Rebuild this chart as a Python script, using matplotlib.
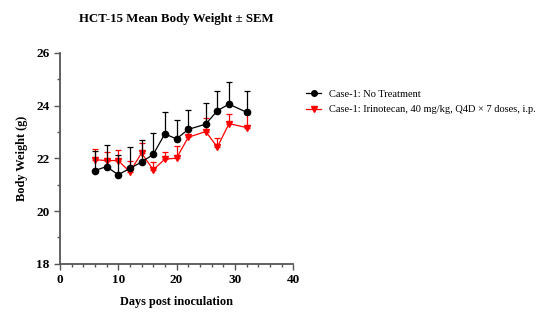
import matplotlib
matplotlib.use("Agg")
import matplotlib.pyplot as plt
from matplotlib.lines import Line2D
from matplotlib.ticker import MultipleLocator

days = [6, 8, 10, 12, 14, 16, 18, 20, 22, 25, 27, 29, 32]
ctrl_mean = [21.54, 21.69, 21.38, 21.62, 21.86, 22.15, 22.93, 22.74, 23.10, 23.30, 23.81, 24.06, 23.75]
ctrl_sem = [0.73, 0.80, 0.75, 0.80, 0.84, 0.80, 0.83, 0.70, 0.74, 0.81, 0.73, 0.84, 0.81]
iri_mean = [21.95, 21.92, 21.92, 21.49, 22.20, 21.57, 21.97, 22.01, 22.80, 23.02, 22.43, 23.32, 23.17]
iri_sem = [0.41, 0.31, 0.41, 0.42, 0.40, 0.28, 0.28, 0.45, 0.40, 0.51, 0.33, 0.36, 0.50]

labels = ["Case-1: No Treatment", "Case-1: Irinotecan, 40 mg/kg, Q4D \u00d7 7 doses, i.p."]

plt.rcParams["font.family"] = ["Liberation Serif", "DejaVu Serif"]
fig = plt.figure(figsize=(5.44, 3.29), dpi=100)
ax = fig.add_axes([0.110, 0.198, 0.429, 0.641])

zero = [0] * len(days)
ax.errorbar(days, iri_mean, yerr=[zero, iri_sem], color="#ff0000", marker="v", markersize=4.5,
            linewidth=0.9, elinewidth=0.9, capsize=2.5, capthick=0.9, zorder=2)
ax.errorbar(days, ctrl_mean, yerr=[zero, ctrl_sem], color="black", marker="o", markersize=4.5,
            linewidth=0.9, elinewidth=0.9, capsize=2.5, capthick=0.9, zorder=3)

ax.set_xlim(0, 40)
ax.set_ylim(18, 26)
ax.xaxis.set_major_locator(MultipleLocator(10))
ax.xaxis.set_minor_locator(MultipleLocator(2))
ax.yaxis.set_major_locator(MultipleLocator(2))
ax.yaxis.set_minor_locator(MultipleLocator(1))
for s in ["top", "right"]:
    ax.spines[s].set_visible(False)
for s in ["left", "bottom"]:
    ax.spines[s].set_color("#555555")
    ax.spines[s].set_linewidth(1.3)
ax.tick_params(which="both", direction="out", color="#555555", width=1.0)
ax.tick_params(which="major", length=4, labelsize=9.5)
ax.tick_params(which="minor", length=2.5)
for t in ax.get_xticklabels() + ax.get_yticklabels():
    t.set_fontweight("bold")

ax.set_xlabel("Days post inoculation", fontsize=8.8, fontweight="bold", labelpad=7)
ax.set_ylabel("Body Weight (g)", fontsize=8.8, fontweight="bold", labelpad=6)
ax.set_title("HCT-15 Mean Body Weight \u00b1 SEM", fontsize=9.3, fontweight="bold", pad=22)

handles = [
    Line2D([], [], color="black", marker="o", markersize=4, linewidth=0.9),
    Line2D([], [], color="#ff0000", marker="v", markersize=4, linewidth=0.9),
]
fig.legend(handles, labels, loc="upper left", bbox_to_anchor=(0.545, 0.757), frameon=False,
           fontsize=7.5, handlelength=1.5, handletextpad=0.7, labelspacing=0.6)

fig.savefig("out.png", dpi=100)
